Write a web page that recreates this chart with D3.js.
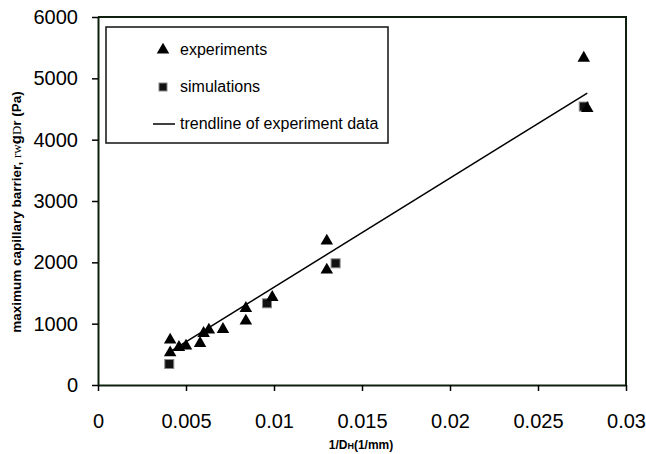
<!DOCTYPE html>
<html>
<head>
<meta charset="utf-8">
<script src="https://cdn.jsdelivr.net/npm/d3@7"></script>
<style>
  body { margin: 0; background: #fff; }
  svg { display: block; font-family: Arial, "Liberation Sans", sans-serif; }
</style>
</head>
<body>
<div id="vis"></div>
<script>
/* Data */
const expX = [0.0041, 0.0041, 0.0046, 0.0050, 0.0058, 0.0060, 0.0063, 0.0071,
              0.0084, 0.0084, 0.0099, 0.0130, 0.0130, 0.0276, 0.0278];
const expY = [734, 527, 615, 636, 680, 843, 897, 908,
              1250, 1045, 1430, 2350, 1875, 5330, 4510];

const simX = [0.00405, 0.0096, 0.0135, 0.0276];
const simY = [342, 1332, 1984, 4540];

const trendX = [0.0041, 0.0278];
const trendY = [545, 4760];

const xTicks = [0, 0.005, 0.01, 0.015, 0.02, 0.025, 0.03];
const yTicks = [0, 1000, 2000, 3000, 4000, 5000, 6000];

const legendLabels = ["experiments", "simulations", "trendline of experiment data"];

/* Layout */
const W = 646, H = 454;
const frameCol = "#0f200f";

const svg = d3.select("#vis").append("svg")
    .attr("width", W).attr("height", H);

const x = d3.scaleLinear().domain([0, 0.03]).range([98, 626]);
const y = d3.scaleLinear().domain([0, 6000]).range([385, 17]);

/* frame (top + right) */
svg.append("path")
    .attr("fill", "none").attr("stroke", frameCol).attr("stroke-width", 2)
    .attr("d", `M${x(0)},${y(6000)}H${x(0.03)}V${y(0)}`);

/* axes */
const fmt = d => String(+d.toFixed(3));

const gx = svg.append("g")
    .attr("transform", `translate(0,${y(0)})`)
    .call(d3.axisBottom(x).tickValues(xTicks).tickFormat(fmt)
          .tickSize(6).tickSizeOuter(0).tickPadding(23));
const gy = svg.append("g")
    .attr("transform", `translate(${x(0)},0)`)
    .call(d3.axisLeft(y).tickValues(yTicks).tickFormat(d3.format("d"))
          .tickSize(6).tickSizeOuter(0).tickPadding(14));

[gx, gy].forEach(g => {
  g.select(".domain").attr("stroke", frameCol).attr("stroke-width", 2);
  g.selectAll(".tick line").attr("stroke", "#000").attr("stroke-width", 1.5);
  g.selectAll(".tick text")
    .attr("fill", "#000")
    .style("font-size", "20px")
    .style("font-family", "Arial, 'Liberation Sans', sans-serif");
});

/* axis titles */
const xt = svg.append("text")
    .attr("x", 361).attr("y", 449)
    .attr("text-anchor", "middle")
    .style("font-size", "12px").style("font-weight", "bold");
xt.append("tspan").text("1/D");
xt.append("tspan").style("font-size", "9px").text("H");
xt.append("tspan").text("(1/mm)");

const yt = svg.append("text")
    .attr("transform", "translate(21,212) rotate(-90)")
    .attr("text-anchor", "middle")
    .style("font-size", "13.5px").style("font-weight", "bold");
yt.append("tspan").text("maximum capillary barrier,  ");
yt.append("tspan").style("font-weight", "normal")
    .style("font-family", "'Liberation Serif', 'DejaVu Serif', serif")
    .style("font-size", "13px").text("rw");
yt.append("tspan").style("font-size", "15px").text("g");
yt.append("tspan").style("font-weight", "normal")
    .style("font-family", "'Liberation Serif', 'DejaVu Serif', serif")
    .style("font-size", "13px").text("D");
yt.append("tspan").text("r (Pa)");

/* marks */
const tri = d3.symbol(d3.symbolTriangle, 68);

svg.append("g").selectAll("rect")
  .data(d3.range(simX.length))
  .join("rect")
    .attr("x", i => x(simX[i]) - 4.5)
    .attr("y", i => y(simY[i]) - 4.5)
    .attr("width", 9).attr("height", 9)
    .attr("fill", "#111").attr("stroke", "#888").attr("stroke-width", 1);

svg.append("g").selectAll("path")
  .data(d3.range(expX.length))
  .join("path")
    .attr("d", tri)
    .attr("transform", i => `translate(${x(expX[i])},${y(expY[i])})`)
    .attr("fill", "#000");

const line = d3.line().x(i => x(trendX[i])).y(i => y(trendY[i]));
svg.append("path")
    .datum(d3.range(trendX.length))
    .attr("d", line)
    .attr("fill", "none").attr("stroke", "#000").attr("stroke-width", 1.5);

/* legend */
const lg = svg.append("g");
lg.append("rect")
    .attr("x", 106).attr("y", 27).attr("width", 282).attr("height", 116)
    .attr("fill", "#fff").attr("stroke", "#111").attr("stroke-width", 1.5);

lg.append("path").attr("d", tri).attr("transform", "translate(163,50)");
lg.append("rect").attr("x", 159).attr("y", 83).attr("width", 8).attr("height", 8)
    .attr("fill", "#111").attr("stroke", "#888");
lg.append("line").attr("x1", 153).attr("x2", 175).attr("y1", 124).attr("y2", 124)
    .attr("stroke", "#000").attr("stroke-width", 1.5);

lg.selectAll("text.lbl")
  .data(legendLabels)
  .join("text")
    .attr("class", "lbl")
    .attr("x", 180)
    .attr("y", (d, i) => 55 + i * 37)
    .style("font-size", "16px")
    .text(d => d);
</script>
</body>
</html>
